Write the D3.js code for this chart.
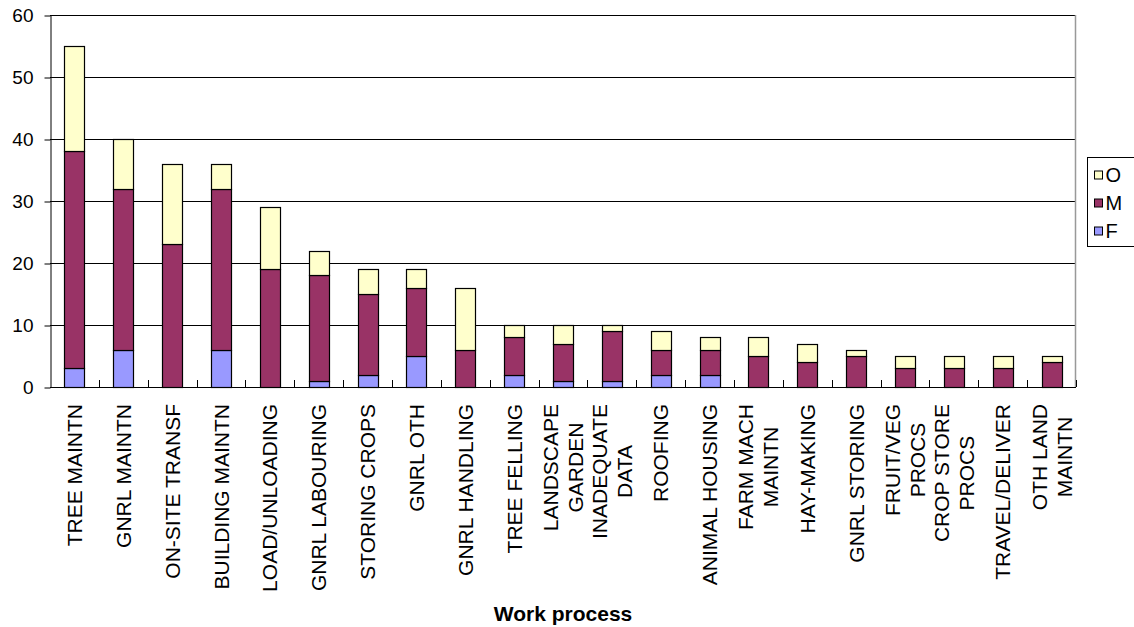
<!DOCTYPE html>
<html>
<head>
<meta charset="utf-8">
<script src="https://cdn.jsdelivr.net/npm/d3@7"></script>
<style>
  body { margin: 0; background: #fff; }
  text { font-family: Arial, "Liberation Sans", sans-serif; fill: #000; }
</style>
</head>
<body>
<svg id="chart" width="1134" height="627"></svg>
<script>
// work process categories ("|" marks a line break in the label)
const categories = [
  'TREE MAINTN', 'GNRL MAINTN', 'ON-SITE TRANSF', 'BUILDING MAINTN', 'LOAD/UNLOADING',
  'GNRL LABOURING', 'STORING CROPS', 'GNRL OTH', 'GNRL HANDLING', 'TREE FELLING',
  'LANDSCAPE|GARDEN', 'INADEQUATE|DATA', 'ROOFING', 'ANIMAL HOUSING', 'FARM MACH|MAINTN',
  'HAY-MAKING', 'GNRL STORING', 'FRUIT/VEG|PROCS', 'CROP STORE|PROCS', 'TRAVEL/DELIVER',
  'OTH LAND|MAINTN'
];
const valuesF = [3, 6, 0, 6, 0, 1, 2, 5, 0, 2, 1, 1, 2, 2, 0, 0, 0, 0, 0, 0, 0];
const valuesM = [35, 26, 23, 26, 19, 17, 13, 11, 6, 6, 6, 8, 4, 4, 5, 4, 5, 3, 3, 3, 4];
const valuesO = [17, 8, 13, 4, 10, 4, 4, 3, 10, 2, 3, 1, 3, 2, 3, 3, 1, 2, 2, 2, 1];
const seriesKeys = ['F', 'M', 'O'];
const legendOrder = ['O', 'M', 'F'];
const yTicks = [0, 10, 20, 30, 40, 50, 60];
const colors = { F: '#9999FF', M: '#993366', O: '#FFFFCC' };

const margins = { top: 15, right: 58, bottom: 240, left: 50 };
const width = 1134;
const height = 627;
const plotRight = width - margins.right;
const plotBottom = height - margins.bottom;

const svg = d3.select('#chart');

const rows = categories.map((c, i) => ({ cat: c, F: valuesF[i], M: valuesM[i], O: valuesO[i] }));
const stacked = d3.stack().keys(seriesKeys)(rows);

const x = d3.scaleBand()
  .domain(categories)
  .range([margins.left, plotRight])
  .paddingInner(0.59)
  .paddingOuter(0.295);

const y = d3.scaleLinear()
  .domain([0, 60])
  .range([plotBottom, margins.top]);

const step = x.step();
const x0 = margins.left;

// gridlines
svg.append('g')
  .selectAll('line')
  .data(yTicks.filter((t) => t > 0))
  .enter()
  .append('line')
  .attr('x1', margins.left)
  .attr('x2', plotRight)
  .attr('y1', (d) => Math.round(y(d)) + 0.5)
  .attr('y2', (d) => Math.round(y(d)) + 0.5)
  .attr('stroke', '#000')
  .attr('stroke-width', 1);

// plot area right border
svg.append('line')
  .attr('x1', plotRight - 0.5).attr('x2', plotRight - 0.5)
  .attr('y1', y(60)).attr('y2', plotBottom)
  .attr('stroke', '#999').attr('stroke-width', 1.5);

// bars
svg.append('g')
  .selectAll('g')
  .data(stacked)
  .enter()
  .append('g')
  .attr('fill', (d) => colors[d.key])
  .selectAll('rect')
  .data((d) => d.filter((p) => p[1] - p[0] > 0))
  .enter()
  .append('rect')
  .attr('x', (d) => Math.round(x(d.data.cat)) + 0.5)
  .attr('y', (d) => Math.round(y(d[1])) + 0.5)
  .attr('width', Math.round(x.bandwidth()))
  .attr('height', (d) => Math.round(y(d[0])) - Math.round(y(d[1])))
  .attr('stroke', '#000')
  .attr('stroke-width', 1.2);

// y axis
const yAxis = svg.append('g')
  .attr('transform', `translate(${margins.left + 0.5}, 0.5)`)
  .call(d3.axisLeft(y).tickValues(yTicks).tickSize(6).tickSizeOuter(0).tickPadding(11));
yAxis.selectAll('text').style('font-size', '19px').attr('fill', '#000');
yAxis.selectAll('line, path').attr('stroke', '#000');

// x axis line and inside ticks at category boundaries
svg.append('line')
  .attr('x1', margins.left).attr('x2', plotRight)
  .attr('y1', plotBottom + 0.5).attr('y2', plotBottom + 0.5)
  .attr('stroke', '#000');
svg.append('g')
  .selectAll('line')
  .data(d3.range(1, categories.length + 1))
  .enter()
  .append('line')
  .attr('x1', (i) => Math.round(x0 + i * step) + 0.5)
  .attr('x2', (i) => Math.round(x0 + i * step) + 0.5)
  .attr('y1', plotBottom - 7)
  .attr('y2', plotBottom)
  .attr('stroke', '#000');

// category labels, rotated, multi-line centred
const lineH = 25;
const labels = svg.append('g')
  .selectAll('g')
  .data(categories)
  .enter()
  .append('g')
  .attr('transform', (d) => `translate(${x(d) + x.bandwidth() / 2}, ${plotBottom + 17}) rotate(-90)`);

labels.each(function (d) {
  const g = d3.select(this);
  const lines = d.split('|');
  const t = g.append('text').style('font-size', '21px').attr('text-anchor', 'middle');
  lines.forEach((ln, i) => {
    t.append('tspan')
      .attr('x', 0)
      .attr('y', (i - (lines.length - 1) / 2) * lineH)
      .attr('dy', '0.36em')
      .text(ln);
  });
  const maxLen = d3.max(t.selectAll('tspan').nodes(), (n) => n.getComputedTextLength());
  t.selectAll('tspan').attr('x', -maxLen / 2);
});

// axis title
svg.append('text')
  .attr('x', (margins.left + plotRight) / 2)
  .attr('y', 621)
  .attr('text-anchor', 'middle')
  .style('font-size', '21px')
  .style('font-weight', 'bold')
  .text('Work process');

// legend
const legend = svg.append('g').attr('transform', 'translate(1087.5, 157.5)');
legend.append('rect')
  .attr('width', 60).attr('height', 89)
  .attr('fill', '#fff').attr('stroke', '#000');
legendOrder.forEach((k, i) => {
  const cy = 17.5 + i * 28;
  legend.append('rect')
    .attr('x', 7).attr('y', cy - 4)
    .attr('width', 8).attr('height', 8)
    .attr('fill', colors[k]).attr('stroke', '#000');
  legend.append('text')
    .attr('x', 18).attr('y', cy)
    .attr('dy', '0.36em')
    .style('font-size', '20px')
    .text(k);
});
</script>
</body>
</html>
